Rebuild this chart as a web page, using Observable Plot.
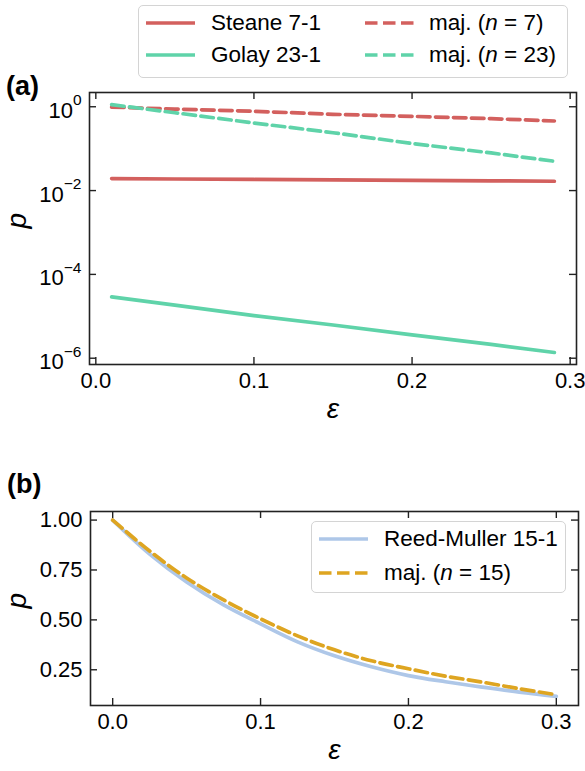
<!DOCTYPE html>
<html><head><meta charset="utf-8">
<script src="https://cdn.jsdelivr.net/npm/d3@7"></script>
<script src="https://cdn.jsdelivr.net/npm/@observablehq/plot@0.6"></script>
<style>
html,body{margin:0;padding:0;background:#fff;}
#root{position:relative;width:585px;height:771px;overflow:hidden;font-family:'Liberation Sans',Arial,sans-serif;color:#000;}
.panel{position:absolute;font-weight:bold;font-size:27px;line-height:27px;}
.legend{position:absolute;border:1.3px solid #d4d4d4;border-radius:5px;background:rgba(255,255,255,0.85);box-sizing:border-box;}
.item{position:absolute;font-size:22.5px;line-height:22px;white-space:nowrap;}
.chart{position:absolute;left:0;}
</style></head>
<body><div id="root"></div>
<script>
// ---------- data: panel (a) ----------
const epsA = [0.01, 0.05, 0.10, 0.15, 0.20, 0.25, 0.29];
const steane71 = [0.0193, 0.0189, 0.0184, 0.0179, 0.0175, 0.0171, 0.0167];
const golay231 = [2.9e-5, 1.84e-5, 1.04e-5, 6.2e-6, 3.6e-6, 2.14e-6, 1.37e-6];
const majN7 = [0.98, 0.88, 0.78, 0.66, 0.59, 0.52, 0.457];
const majN23 = [1.12, 0.72, 0.41, 0.24, 0.133, 0.079, 0.050];
const xTicksA = [0, 0.1, 0.2, 0.3];
const yTicksA = [1, 1e-2, 1e-4, 1e-6];

// ---------- data: panel (b) ----------
const epsB = [0, 0.025, 0.05, 0.075, 0.1, 0.125, 0.15, 0.175, 0.2, 0.225, 0.25, 0.275, 0.3];
const reedMuller151 = [1.0, 0.83, 0.69, 0.575, 0.48, 0.39, 0.32, 0.265, 0.221, 0.19, 0.163, 0.138, 0.117];
const majN15 = [1.0, 0.845, 0.71, 0.60, 0.505, 0.42, 0.35, 0.295, 0.255, 0.218, 0.188, 0.155, 0.125];
const xTicksB = [0, 0.1, 0.2, 0.3];
const yTicksB = [0.25, 0.5, 0.75, 1.0];

// ---------- styles ----------
const RED = "#d3605e", GREEN = "#5fd3a9", BLUE = "#aec7e8", GOLD = "#dea521";
const LW = 3.7, DASH = "12.5,5.5";
const FONT = "'Liberation Sans', Arial, sans-serif";
const TICKFONT = "22px";

const root = document.getElementById("root");
const toRows = (xs, ys) => xs.map((x, i) => ({x, y: ys[i]}));

function frameMarks(xTicks, yTicks, innerW, innerH) {
  const t = 7;
  return [
    Plot.tickX(xTicks, {x: d => d, insetTop: innerH - t, stroke: "#222", strokeWidth: 1.4}),
    Plot.tickX(xTicks, {x: d => d, insetBottom: innerH - t, stroke: "#222", strokeWidth: 1.4}),
    Plot.tickY(yTicks, {y: d => d, insetRight: innerW - t, stroke: "#222", strokeWidth: 1.4}),
    Plot.tickY(yTicks, {y: d => d, insetLeft: innerW - t, stroke: "#222", strokeWidth: 1.4}),
    Plot.frame({stroke: "#222", strokeWidth: 1.6})
  ];
}

// ---------- panel (a) ----------
{
  const W = 585, H = 350, mt = 12, mb = 66, ml = 89, mr = 9;
  const chart = Plot.plot({
    width: W, height: H, marginTop: mt, marginBottom: mb, marginLeft: ml, marginRight: mr,
    style: {fontSize: TICKFONT, fontFamily: FONT, color: "#000", background: "transparent", overflow: "visible"},
    x: {domain: [-0.004, 0.304], label: null},
    y: {type: "log", domain: [10 ** -6.15, 10 ** 0.34], label: null},
    marks: [
      Plot.line(toRows(epsA, steane71), {x: "x", y: "y", stroke: RED, strokeWidth: LW}),
      Plot.line(toRows(epsA, golay231), {x: "x", y: "y", stroke: GREEN, strokeWidth: LW}),
      Plot.line(toRows(epsA, majN7), {x: "x", y: "y", stroke: RED, strokeWidth: LW, strokeDasharray: DASH}),
      Plot.line(toRows(epsA, majN23), {x: "x", y: "y", stroke: GREEN, strokeWidth: LW, strokeDasharray: DASH}),
      ...frameMarks(xTicksA, yTicksA, W - ml - mr, H - mt - mb),
      Plot.axisX({ticks: xTicksA, tickSize: 0, tickPadding: 8, tickFormat: d3.format(".1f"), label: null}),
      Plot.axisY({ticks: yTicksA, tickSize: 0, tickPadding: 8, tickFormat: d => "10^" + Math.round(Math.log10(d)), label: null}),
      Plot.text(["ε"], {frameAnchor: "bottom", dy: 53, fontSize: 28, fontStyle: "italic"}),
      Plot.text(["p"], {frameAnchor: "left", dx: -72, rotate: -90, fontSize: 28, fontStyle: "italic"})
    ]
  });
  chart.classList.add("chart");
  chart.style.top = "80px";
  root.appendChild(chart);
  // superscript exponents on log tick labels
  chart.querySelectorAll('g[aria-label="y-axis tick label"] text').forEach(t => {
    const m = /^10\^(-?\d+)$/.exec(t.textContent);
    if (!m) return;
    t.textContent = "";
    const ns = "http://www.w3.org/2000/svg";
    const a = document.createElementNS(ns, "tspan");
    a.setAttribute("dy", "4");
    a.textContent = "10";
    const b = document.createElementNS(ns, "tspan");
    b.setAttribute("dy", "-12.5");
    b.setAttribute("font-size", "15.5px");
    b.textContent = m[1].replace("-", "\u2212");
    t.appendChild(a); t.appendChild(b);
  });
}

// ---------- panel (b) ----------
{
  const W = 585, H = 271, mt = 11, mb = 66, ml = 90, mr = 7;
  const chart = Plot.plot({
    width: W, height: H, marginTop: mt, marginBottom: mb, marginLeft: ml, marginRight: mr,
    style: {fontSize: TICKFONT, fontFamily: FONT, color: "#000", background: "transparent", overflow: "visible"},
    x: {domain: [-0.015, 0.315], label: null},
    y: {domain: [0.071, 1.043], label: null},
    marks: [
      Plot.line(toRows(epsB, reedMuller151), {x: "x", y: "y", stroke: BLUE, strokeWidth: LW, curve: "catmull-rom"}),
      Plot.line(toRows(epsB, majN15), {x: "x", y: "y", stroke: GOLD, strokeWidth: LW, strokeDasharray: DASH, curve: "catmull-rom"}),
      ...frameMarks(xTicksB, yTicksB, W - ml - mr, H - mt - mb),
      Plot.axisX({ticks: xTicksB, tickSize: 0, tickPadding: 8, tickFormat: d3.format(".1f"), label: null}),
      Plot.axisY({ticks: yTicksB, tickSize: 0, tickPadding: 8, tickFormat: d3.format(".2f"), label: null}),
      Plot.text(["ε"], {frameAnchor: "bottom", dy: 53, fontSize: 28, fontStyle: "italic"}),
      Plot.text(["p"], {frameAnchor: "left", dx: -73, rotate: -90, fontSize: 28, fontStyle: "italic"})
    ]
  });
  chart.classList.add("chart");
  chart.style.top = "500px";
  root.appendChild(chart);
}

// ---------- panel labels ----------
function panelLabel(txt, left, cy) {
  const d = document.createElement("div");
  d.className = "panel";
  d.style.left = left + "px";
  d.style.top = (cy - 13.5) + "px";
  d.textContent = txt;
  root.appendChild(d);
}
panelLabel("(a)", 6, 86);
panelLabel("(b)", 7, 484);

// ---------- legends ----------
function legend(box, items) {
  const L = document.createElement("div");
  L.className = "legend";
  Object.assign(L.style, {left: box.x + "px", top: box.y + "px", width: box.w + "px", height: box.h + "px"});
  root.appendChild(L);
  items.forEach(it => {
    const s = document.createElementNS("http://www.w3.org/2000/svg", "svg");
    s.setAttribute("width", it.len); s.setAttribute("height", 10);
    Object.assign(s.style, {position: "absolute", left: it.hx + "px", top: (it.cy - 5) + "px", overflow: "visible"});
    const ln = document.createElementNS("http://www.w3.org/2000/svg", "line");
    ln.setAttribute("x1", 0); ln.setAttribute("x2", it.len); ln.setAttribute("y1", 5); ln.setAttribute("y2", 5);
    ln.setAttribute("stroke", it.color); ln.setAttribute("stroke-width", LW);
    if (it.dash) ln.setAttribute("stroke-dasharray", DASH);
    s.appendChild(ln);
    L.appendChild(s);
    const t = document.createElement("div");
    t.className = "item";
    t.style.left = it.tx + "px";
    t.style.top = (it.cy - 11) + "px";
    t.innerHTML = it.html;
    L.appendChild(t);
  });
}
legend({x: 138, y: 5, w: 430, h: 73}, [
  {hx: 7, len: 49, cy: 17, color: RED, dash: false, tx: 72, html: "Steane 7-1"},
  {hx: 7, len: 49, cy: 49, color: GREEN, dash: false, tx: 72, html: "Golay 23-1"},
  {hx: 226, len: 49, cy: 17, color: RED, dash: true, tx: 290, html: "maj. (<i>n</i> = 7)"},
  {hx: 226, len: 49, cy: 49, color: GREEN, dash: true, tx: 290, html: "maj. (<i>n</i> = 23)"}
]);
legend({x: 311, y: 521, w: 255, h: 72}, [
  {hx: 7, len: 49, cy: 16.5, color: BLUE, dash: false, tx: 72, html: "Reed-Muller 15-1"},
  {hx: 7, len: 49, cy: 51, color: GOLD, dash: true, tx: 72, html: "maj. (<i>n</i> = 15)"}
]);
</script></body></html>
